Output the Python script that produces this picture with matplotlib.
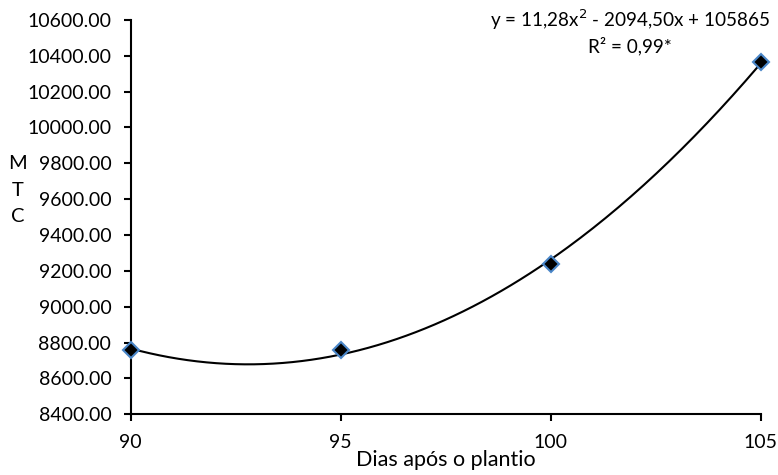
import numpy as np
import matplotlib.pyplot as plt

plt.rcParams['font.family'] = ['Lato', 'DejaVu Sans']

dias = [90, 95, 100, 105]
mtc = [8757, 8761, 9236, 10368]

coef = np.polyfit(dias, mtc, 2)
xs = np.linspace(90, 105, 200)
ys = np.polyval(coef, xs)

fig = plt.figure(figsize=(7.78, 4.75), dpi=100)
ax = fig.add_axes([0.168, 0.128, 0.81, 0.83])

ax.plot(xs, ys, color='black', lw=1.5, zorder=2)
ax.plot(dias, mtc, linestyle='none', marker='D', markersize=8.5,
        markerfacecolor='black', markeredgecolor='#4a86c8', markeredgewidth=1.5,
        zorder=3, clip_on=False)

ax.set_xlim(90, 105)
ax.set_ylim(8400, 10600)
ax.set_xticks([90, 95, 100, 105])
ax.set_yticks(np.arange(8400, 10601, 200))
ax.yaxis.set_major_formatter(plt.FuncFormatter(lambda v, p: f'{v:.2f}'))

for s in ['top', 'right']:
    ax.spines[s].set_visible(False)
for s in ['left', 'bottom']:
    ax.spines[s].set_linewidth(1.5)
ax.tick_params(axis='both', labelsize=14, width=1.5, length=5, direction='out')
ax.tick_params(axis='y', pad=9)
ax.tick_params(axis='x', pad=9)

ax.set_xlabel('Dias após o plantio', fontsize=15.5, labelpad=0)
ax.xaxis.set_label_coords(0.5, -0.09)
fig.text(0.023, 0.6, 'M\nT\nC', fontsize=14.5, ha='center', va='center', linespacing=1.65)

ax.text(0.792, 0.97, 'y = 11,28x$^{2}$ - 2094,50x + 105865\nR² = 0,99*', transform=ax.transAxes,
        fontsize=13.6, ha='center', va='center', linespacing=1.3)

fig.savefig('out.png', dpi=100)
